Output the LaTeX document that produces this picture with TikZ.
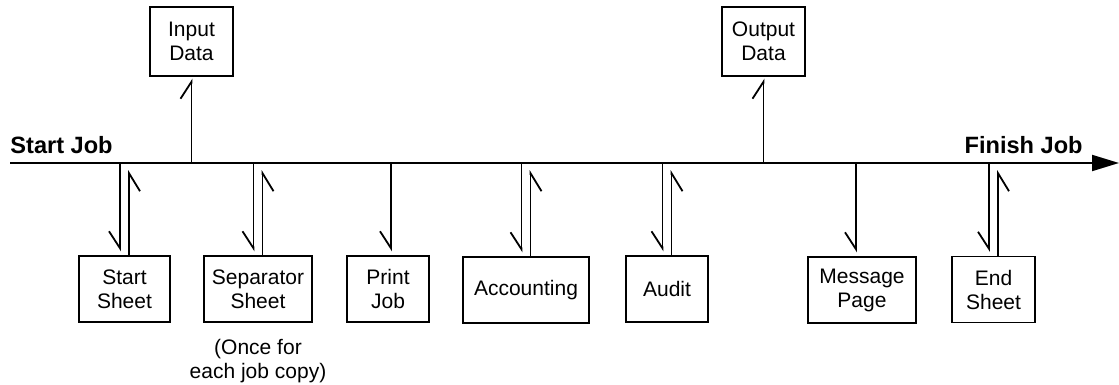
\documentclass[tikz,border=0pt]{standalone}
\usepackage{fontspec}
\setmainfont{Liberation Sans}
\usetikzlibrary{arrows.meta,positioning}
\tikzset{
box/.style={draw, line width=0.7pt, inner sep=0pt, align=center,
  minimum height=33pt, font=\fontsize{10.5}{12}\selectfont}, % the boxes on and under the line
note/.style={inner sep=0pt, align=center, font=\fontsize{10.5}{12}\selectfont},
lbl/.style={inner sep=0pt, font=\bfseries\fontsize{11.8}{14}\selectfont},
bus/.style={line width=1pt, -{Triangle[length=13.5pt,width=8pt]}},
dn/.style={line width=0.9pt, -{Straight Barb[harpoon,swap,length=8.5pt,width=11pt]}, shorten >=2pt},
up/.style={line width=0.9pt, -{Straight Barb[harpoon,swap,length=9pt,width=11pt]}, shorten >=3.5pt},
toin/.style={line width=0.9pt, -{Straight Barb[harpoon,length=8.5pt,width=11pt]}, shorten >=1pt},
}

\begin{document}
\begin{tikzpicture}[x=0.5pt,y=-0.5pt]
   \useasboundingbox (0,0) rectangle (1119,385);
   \coordinate (start) at (10,163);
   \coordinate (finish) at (1119,163);
   \node[lbl, anchor=base west] (startlbl) at (10,154) {Start Job};
   \node[lbl, anchor=base east] (finishlbl) at (1083,154) {Finish Job};
   % data boxes above the line
   \node[box, minimum width=41.5pt, minimum height=34.5pt] (in) at (191.5,41.5) {Input\\Data};
   \node[box, minimum width=41.5pt, minimum height=34.5pt] (out) at (763.5,41.5) {Output\\Data};
   % steps below the line
   \node[box, minimum width=45.5pt] (stsheet) at (124.5,289) {Start\\Sheet};
   \node[box, minimum width=54pt] (sepsheet) at (258,289) {Separator\\Sheet};
   \node[box, minimum width=41pt] (print) at (388,289) {Print\\Job};
   \node[box, minimum width=63pt] (acct) at (526,290) {Accounting};
   \node[box, minimum width=41pt] (audit) at (667,289) {Audit};
   \node[box, minimum width=54pt] (msg) at (862,290) {Message\\Page};
   \node[box, minimum width=41.5pt] (endsheet) at (993.5,289.5) {End\\Sheet};
   \node[note, below=8pt of sepsheet] (once) {(Once for\\each job copy)};
   \draw[bus] (start) -- (finish);
   \draw[toin] (in |- start) -- (in);
   \draw[toin] (out |- start) -- (out);
   \foreach \b in {stsheet,sepsheet,acct,audit,endsheet}{
     \draw[dn] ([xshift=-2.25pt]\b.north |- start) -- ([xshift=-2.25pt]\b.north);
     \draw[up] ([xshift=2.25pt]\b.north) -- ([xshift=2.25pt]\b.north |- start);
   }
   \draw[dn] ([xshift=1.5pt]print.north |- start) -- ([xshift=1.5pt]print.north);
   \draw[dn] ([xshift=-3pt]msg.north |- start) -- ([xshift=-3pt]msg.north);
\end{tikzpicture}
\end{document}
